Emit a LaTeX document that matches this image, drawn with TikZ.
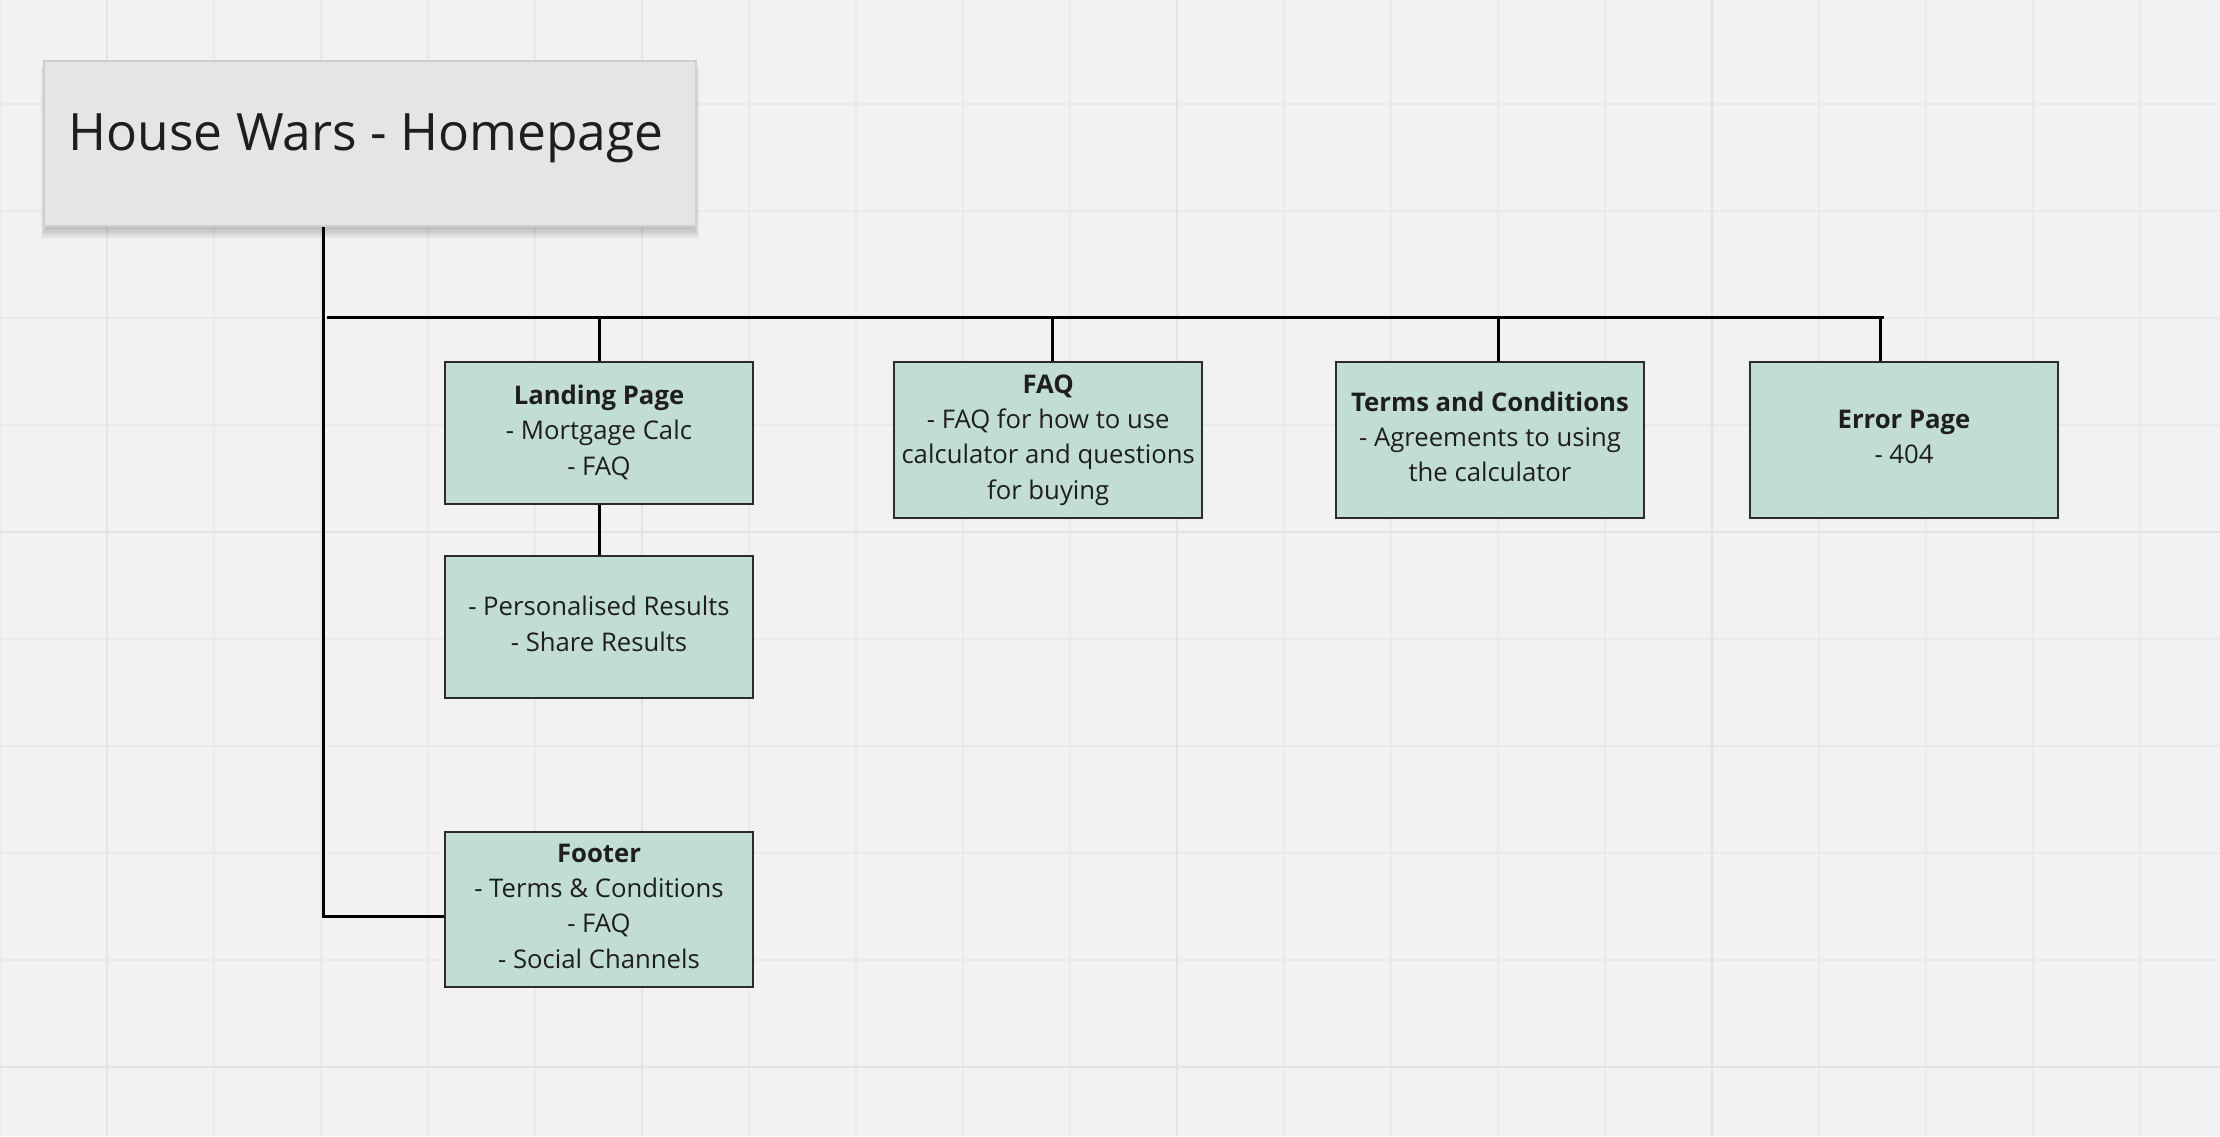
\documentclass[tikz,border=0pt]{standalone}
\usepackage{fontspec}
\setmainfont{Open Sans}
\usetikzlibrary{calc}

\definecolor{canvas}{HTML}{F2F2F2}
\definecolor{gridminor}{HTML}{EAEAEA}
\definecolor{gridmajor}{HTML}{E3E3E3}
\definecolor{cardfill}{HTML}{C1DDD6}
\definecolor{cardline}{HTML}{2B2B2B}
\definecolor{inktext}{HTML}{1E1E1E}
\definecolor{titlefill}{HTML}{E5E5E5}
\definecolor{titleline}{HTML}{CFCFCF}

\begin{document}
\begin{tikzpicture}[x=0.5pt,y=-0.5pt,
  card/.style={draw=cardline, line width=1pt, fill=cardfill, inner sep=0pt,
    align=center, text=inktext, font=\fontsize{12.85pt}{17.7pt}\selectfont,
    text depth=3.2pt, minimum width=154pt, minimum height=78pt},
  link/.style={draw=black, line width=1.5pt},
  minorline/.style={draw=gridminor, line width=0.8pt},
  majorline/.style={draw=gridmajor, line width=1pt}]

% canvas and grid
\fill[canvas] (0,0) rectangle (2220,1136);
\useasboundingbox (0,0) rectangle (2220,1136);
\foreach \gx in {0,107,...,2220} \draw[minorline] (\gx,0) -- (\gx,1136);
\foreach \gy in {-3,104,...,1136} \draw[minorline] (0,\gy) -- (2220,\gy);
\foreach \gx in {107,642,1177,1712} \draw[majorline] (\gx,0) -- (\gx,1136);
\foreach \gy in {532,1067} \draw[majorline] (0,\gy) -- (2220,\gy);

% title card with a soft shadow
\foreach \s in {1,...,9}
  \fill[black, opacity=0.022] (46-0.6*\s,61+0.8*\s) rectangle (694+0.6*\s,228+1.2*\s);
\node[draw=titleline, fill=titlefill, line width=1pt, inner sep=0pt,
      minimum width=326pt, minimum height=82.5pt] (title) at (370,143.5) {};
\node[text=inktext, font=\fontsize{25.75pt}{30pt}\selectfont, inner sep=0pt,
      anchor=base] (titletext) at (366,150.7) {House Wars - Homepage};

% connector anchors
\coordinate (tx) at (323,0);
\coordinate (busL) at (327,317);
\coordinate (busR) at (1884,317);
\coordinate (dFaq) at (1052.7,317);
\coordinate (dTerms) at (1498.3,317);
\coordinate (dErr) at (1880,317);

% page cards
\node[card, minimum height=71pt] (landing) at (599,433.4)
  {\textbf{Landing Page}\\- Mortgage Calc\\- FAQ};
\node[card, minimum height=71pt] (results) at (599,627)
  {- Personalised Results\\- Share Results};
\node[card] (faq) at (1048.2,440)
  {\textbf{FAQ}\\- FAQ for how to use\\calculator and questions\\for buying};
\node[card] (terms) at (1490,440)
  {\textbf{Terms and Conditions}\\- Agreements to using\\the calculator};
\node[card] (error) at (1904,440)
  {\textbf{Error Page}\\- 404};
\node[card, minimum height=77.5pt] (footer) at (599,909.2)
  {\textbf{Footer}\\- Terms \& Conditions\\- FAQ\\- Social Channels};

\coordinate (footjoin) at ($(footer.west)+(0,7)$);

% connectors
\draw[link] (title.south -| tx) -- (tx |- footjoin) -- (footjoin);
\draw[link] (busL) -- (busR);
\draw[link] (landing.north |- busL) -- (landing.north);
\draw[link] (dFaq) -- (dFaq |- faq.north);
\draw[link] (dTerms) -- (dTerms |- terms.north);
\draw[link] (dErr) -- (dErr |- error.north);
\draw[link] (landing.south) -- (results.north);
\end{tikzpicture}
\end{document}
